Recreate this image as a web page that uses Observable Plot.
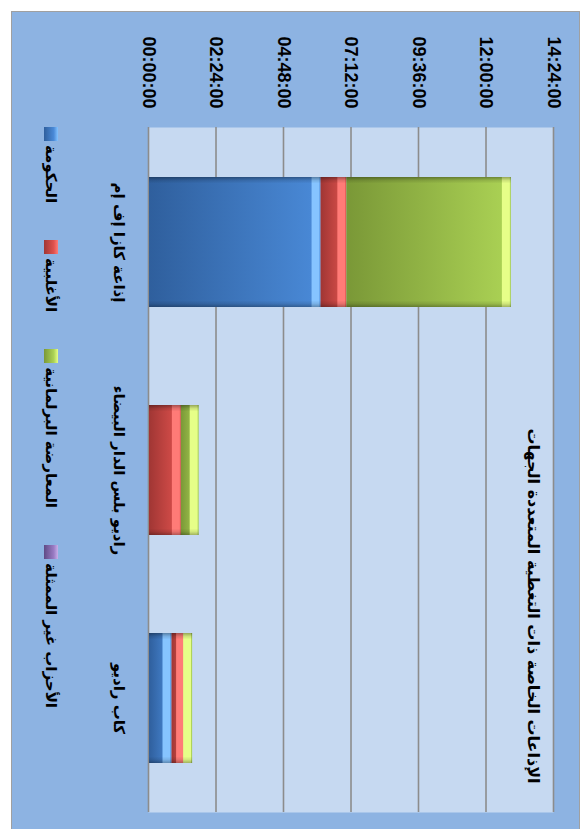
<!DOCTYPE html>
<html>
<head>
<meta charset="utf-8">
<script src="https://cdn.jsdelivr.net/npm/d3@7"></script>
<script src="https://cdn.jsdelivr.net/npm/@observablehq/plot@0.6"></script>
<style>
  html, body { margin: 0; padding: 0; background: #ffffff; }
  body { width: 586px; height: 829px; overflow: hidden; position: relative; }
  #rot { position: absolute; left: 0; top: 0; width: 829px; height: 586px;
         transform-origin: 0 0; transform: translate(586px, 0) rotate(90deg); }
  #area { position: absolute; left: 11px; top: 6px; width: 840px; height: 569px;
          background: #8db3e2; border: 1.5px solid #a0a0a0; box-sizing: border-box; }
  #chart { position: absolute; left: 0; top: 0; }
  #title { position: absolute; left: 406px; width: 400px; top: 43px; text-align: center;
           font-family: "DejaVu Sans", sans-serif; font-weight: bold; font-size: 16px; color: #000;
           direction: rtl; white-space: nowrap; }
  #legend { position: absolute; left: 127px; top: 526px; display: flex; align-items: center; gap: 37px;
            font-family: "DejaVu Sans", sans-serif; font-weight: bold; font-size: 15px; color: #000; }
  .item { display: flex; align-items: center; gap: 4px; white-space: nowrap; }
  .sw { width: 14px; height: 14px; box-sizing: border-box; }
</style>
</head>
<body>
<div id="rot">
  <div id="area"></div>
  <div id="chart"></div>
  <div id="title"></div>
  <div id="legend"></div>
</div>
<script>
// ---- data ----
const chartTitle = "الإذاعات الخاصة ذات التغطية المتعددة الجهات";
const categories = ["إذاعة كازا إف إم", "راديو بلس الدار البيضاء", "كاب راديو"];
const seriesNames = ["الحكومة", "الأغلبية", "المعارضة البرلمانية", "الأحزاب غير الممثلة"];
const government    = ["06:06:00", "00:00:00", "00:48:00"];
const majority      = ["00:55:00", "01:08:00", "00:29:00"];
const opposition    = ["05:51:00", "00:38:00", "00:15:00"];
const unrepresented = ["00:00:00", "00:00:00", "00:00:00"];
const tickLabels = ["00:00:00", "02:24:00", "04:48:00", "07:12:00", "09:36:00", "12:00:00", "14:24:00"];

// ---- styling ----
const baseColors = [["#2f5f9d", "#4a8ad8"], ["#a03634", "#e0524e"], ["#7a9837", "#acd355"], ["#5f4a85", "#9a7cc4"]];
const hiColors = ["#86c4ff", "#ff7b77", "#e6ff88", "#c9b0ea"];

const toMin = s => { const [h, m, sec] = s.split(":").map(Number); return h * 60 + m + sec / 60; };
const pad = n => String(n).padStart(2, "0");
const fmt = v => `${pad(Math.floor(v / 60))}:${pad(Math.round(v % 60))}:00`;

const seriesValues = [government, majority, opposition, unrepresented];
const rows = [];
seriesValues.forEach((vals, si) => {
  vals.forEach((v, ci) => {
    const m = toMin(v);
    if (m > 0) rows.push({cat: categories[ci], series: seriesNames[si], si, min: m});
  });
});
const ticks = tickLabels.map(toMin);

const stackOpts = extra => Plot.stackY({x: "cat", y: "min", z: "series", ...extra});

const svg = Plot.plot({
  width: 829, height: 586,
  marginLeft: 127, marginRight: 17, marginTop: 32, marginBottom: 149,
  style: {background: "transparent", fontFamily: "'Liberation Sans', 'DejaVu Sans', sans-serif", overflow: "visible"},
  x: {domain: categories, paddingInner: 0.43, paddingOuter: 0.215, axis: null, label: null},
  y: {domain: [0, ticks[ticks.length - 1]], axis: null, label: null},
  color: {type: "identity"},
  marks: [
    Plot.frame({fill: "#c6d9f1", stroke: null}),
    Plot.gridY(ticks, {stroke: "#8c8c8c", strokeOpacity: 1, strokeWidth: 1.6}),
    Plot.barY(rows, stackOpts({fill: d => `url(#g${d.si})`})),
    Plot.tickY(rows, Plot.stackY2({x: "cat", y: "min", z: "series", stroke: d => hiColors[d.si], strokeWidth: 8, dy: 4.5})),
    Plot.barY(rows, stackOpts({fill: "url(#edge)"})),
    Plot.axisY(ticks, {tickSize: 0, tickPadding: 19, tickFormat: fmt, fontSize: 18, fontWeight: "bold", fill: "#000", label: null}),
    Plot.axisX(categories, {tickSize: 0, tickPadding: 24, fontSize: 15, fontWeight: "bold", fill: "#000", label: null,
      fontFamily: "'DejaVu Sans', sans-serif"})
  ]
});

const defs = `<defs>
${baseColors.map((c, i) => `<linearGradient id="g${i}" x1="0" y1="1" x2="0" y2="0">
  <stop offset="0" stop-color="${c[0]}"/><stop offset="1" stop-color="${c[1]}"/></linearGradient>`).join("")}
<linearGradient id="edge" x1="0" y1="0" x2="1" y2="0">
  <stop offset="0" stop-color="#000" stop-opacity="0.35"/>
  <stop offset="0.025" stop-color="#000" stop-opacity="0.12"/>
  <stop offset="0.05" stop-color="#000" stop-opacity="0"/>
  <stop offset="0.95" stop-color="#000" stop-opacity="0"/>
  <stop offset="0.975" stop-color="#000" stop-opacity="0.1"/>
  <stop offset="1" stop-color="#000" stop-opacity="0.3"/>
</linearGradient></defs>`;
svg.insertAdjacentHTML("afterbegin", defs);
document.getElementById("chart").appendChild(svg);

document.getElementById("title").textContent = chartTitle;

const legend = document.getElementById("legend");
seriesNames.forEach((name, i) => {
  const item = document.createElement("div");
  item.className = "item";
  const sw = document.createElement("div");
  sw.className = "sw";
  sw.style.background = `linear-gradient(to top, ${baseColors[i][0]}, ${baseColors[i][1]} 70%, ${hiColors[i]})`;
  const t = document.createElement("span");
  t.textContent = name;
  item.appendChild(sw);
  item.appendChild(t);
  legend.appendChild(item);
});
</script>
</body>
</html>
